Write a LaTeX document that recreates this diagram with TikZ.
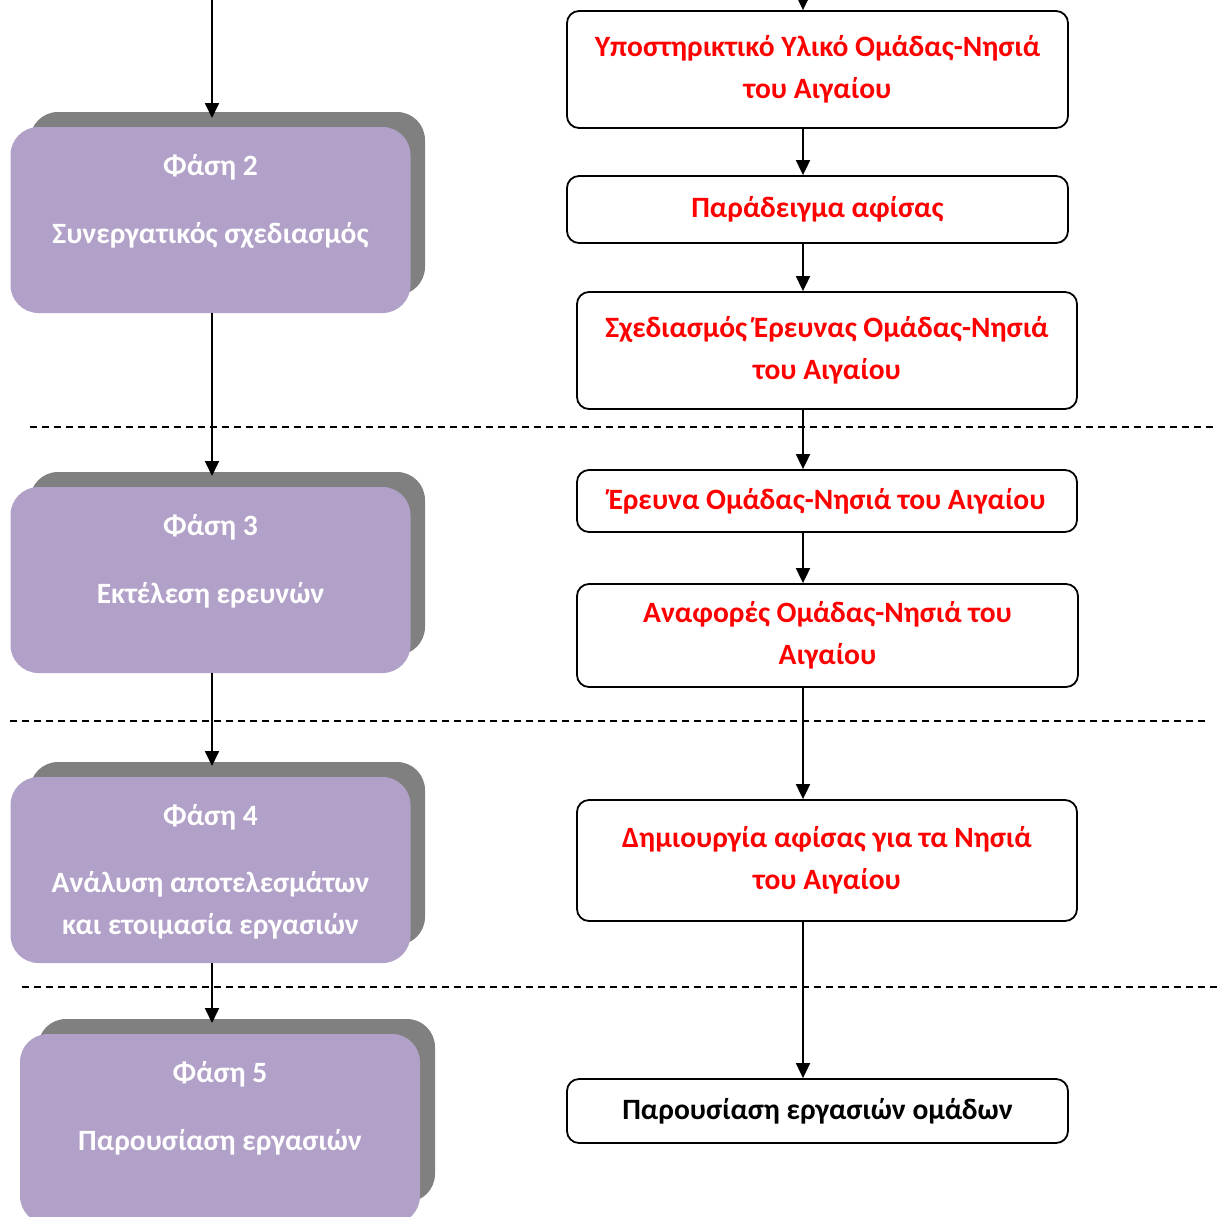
\documentclass[tikz,border=0pt]{standalone}
\usepackage{fontspec}
\setmainfont{Carlito}[BoldFont={Carlito Bold}]
\usetikzlibrary{arrows.meta}
\definecolor{phasepurple}{HTML}{B1A0C7}
\definecolor{shadowgray}{HTML}{808080}
\definecolor{boxred}{HTML}{FF0000}
\begin{document}
\begin{tikzpicture}[x=1pt,y=-1pt,
  shadowbox/.style={fill=shadowgray, rounded corners=28pt},
  phasebox/.style={fill=phasepurple, rounded corners=28pt, draw=none},
  phasetext/.style={text=white, font=\fontsize{29.5}{42}\selectfont\bfseries, align=center, inner sep=0pt},
  stepbox/.style={draw=black, line width=1.8pt, rounded corners=12pt, fill=white, align=center,
    font=\fontsize{29.5}{42}\selectfont\bfseries, text=boxred, inner sep=0pt},
  arr/.style={line width=1.8pt, -{Triangle[width=14pt,length=15pt]}},
  sep/.style={line width=1.4pt, dash pattern=on 7pt off 5pt}
]
\useasboundingbox (0,0) rectangle (1218,1216);
\fill[white] (0,0) rectangle (1218,1216);

% left column x guide and right column x guide
\coordinate (lx) at (212,0);
\coordinate (rx) at (803,0);

% dashed separators
\coordinate (d1a) at (30,427);  \coordinate (d1b) at (1218,427);
\coordinate (d2a) at (10,721);  \coordinate (d2b) at (1205,721);
\coordinate (d3a) at (22,987);  \coordinate (d3b) at (1218,987);
\draw[sep] (d1a) -- (d1b);
\draw[sep] (d2a) -- (d2b);
\draw[sep] (d3a) -- (d3b);

% ---------- Phase boxes ----------
% Phase 2
\fill[shadowbox] (30,112) rectangle (425,295);
\node[phasebox, minimum width=400pt, minimum height=186pt] (p2) at (210.5,220) {};
\node[phasetext] (p2a) at (210.5,167) {Φάση 2};
\node[phasetext] (p2b) at (210.5,235) {Συνεργατικός σχεδιασμός};
% Phase 3
\fill[shadowbox] (30,472) rectangle (425,655);
\node[phasebox, minimum width=400pt, minimum height=186pt] (p3) at (210.5,580) {};
\node[phasetext] (p3a) at (210.5,527) {Φάση 3};
\node[phasetext] (p3b) at (210.5,595) {Εκτέλεση ερευνών};
% Phase 4
\fill[shadowbox] (30,762) rectangle (425,945);
\node[phasebox, minimum width=400pt, minimum height=186pt] (p4) at (210.5,870) {};
\node[phasetext] (p4a) at (210.5,817) {Φάση 4};
\node[phasetext] (p4b) at (210.5,905) {Ανάλυση αποτελεσμάτων\\και ετοιμασία εργασιών};
% Phase 5
\fill[shadowbox] (38,1019) rectangle (435,1202);
\node[phasebox, minimum width=400pt, minimum height=190pt] (p5) at (220,1129) {};
\node[phasetext] (p5a) at (220,1074) {Φάση 5};
\node[phasetext] (p5b) at (220,1142) {Παρουσίαση εργασιών};

% left arrows
\coordinate (ltop) at (212,0);
\coordinate (l2) at (212,118);
\coordinate (l3) at (212,476);
\coordinate (l4) at (212,766);
\coordinate (l5) at (212,1023);
\draw[arr] (ltop) -- (l2);
\draw[arr] (p2.south -| lx) -- (l3);
\draw[arr] (p3.south -| lx) -- (l4);
\draw[arr] (p4.south -| lx) -- (l5);

% ---------- Right boxes ----------
\node[stepbox, minimum width=501pt, minimum height=117pt] (b1) at (817.5,69.5)
  {Υποστηρικτικό Υλικό Ομάδας-Νησιά\\του Αιγαίου};
\node[stepbox, minimum width=501pt, minimum height=67pt] (b2) at (817.5,209.5)
  {Παράδειγμα αφίσας};
\node[stepbox, minimum width=500pt, minimum height=117pt] (b3) at (827,350.5)
  {Σχεδιασμός Έρευνας Ομάδας-Νησιά\\του Αιγαίου};
\node[stepbox, minimum width=500pt, minimum height=62pt] (b4) at (827,501)
  {Έρευνα Ομάδας-Νησιά του Αιγαίου};
\node[stepbox, minimum width=501pt, minimum height=103pt] (b5) at (827.5,635.5)
  {Αναφορές Ομάδας-Νησιά του\\Αιγαίου};
\node[stepbox, minimum width=500pt, minimum height=121pt] (b6) at (827,860.5)
  {Δημιουργία αφίσας για τα Νησιά\\του Αιγαίου};
\node[stepbox, minimum width=501pt, minimum height=64pt, text=black] (b7) at (817.5,1111)
  {Παρουσίαση εργασιών ομάδων};

% right arrows
\coordinate (rtop) at (803,0);
\draw[arr] (rtop) -- (b1.north -| rx);
\draw[arr] (b1.south -| rx) -- (b2.north -| rx);
\draw[arr] (b2.south -| rx) -- (b3.north -| rx);
\draw[arr] (b3.south -| rx) -- (b4.north -| rx);
\draw[arr] (b4.south -| rx) -- (b5.north -| rx);
\draw[arr] (b5.south -| rx) -- (b6.north -| rx);
\draw[arr] (b6.south -| rx) -- (b7.north -| rx);
\end{tikzpicture}
\end{document}
